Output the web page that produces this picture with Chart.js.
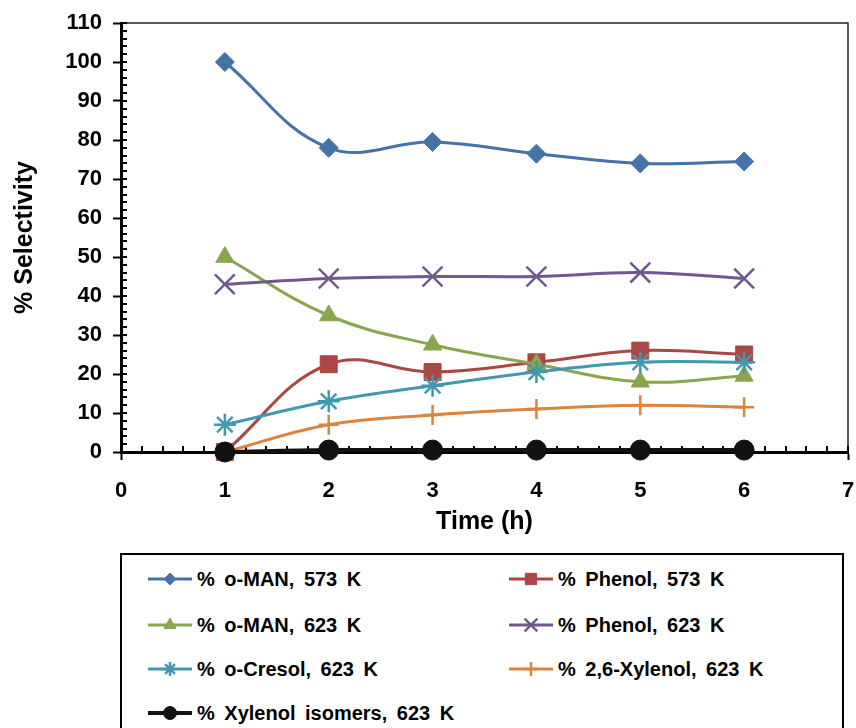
<!DOCTYPE html>
<html>
<head>
<meta charset="utf-8">
<script src="https://cdn.jsdelivr.net/npm/chart.js@4.4.0/dist/chart.umd.min.js"></script>
<style>
    body { margin: 0; background: #fff; width: 856px; height: 728px; overflow: hidden; position: relative; font-family: "Liberation Sans", Arial, sans-serif; }
    #wrap { position: absolute; left: 0; top: 0; width: 856px; height: 548px; }
    #legend { position: absolute; left: 120px; top: 553px; width: 724px; height: 220px; border: 2px solid #000; box-sizing: border-box; }
    .item { position: absolute; height: 24px; display: flex; align-items: center; font-weight: bold; font-size: 20px; word-spacing: 4px; white-space: nowrap; color: #000; }
    .item canvas { margin-right: 5px; }
</style>
</head>
<body>
<div id="wrap"><canvas id="selectivityChart"></canvas></div>
<div id="legend"></div>
<script>
// Time on stream (h)
const times = [1, 2, 3, 4, 5, 6];

// % selectivity per product
const oMan573 = [100, 78, 79.5, 76.5, 74, 74.5];
const phenol573 = [0, 22.5, 20.5, 23, 26, 25];
const oMan623 = [50, 35, 27.5, 22.5, 18, 19.5];
const phenol623 = [43, 44.5, 45, 45, 46, 44.5];
const cresol623 = [7, 13, 17, 20.5, 23, 23];
const xylenol26_623 = [0, 7, 9.5, 11, 12, 11.5];
const xylenolIsomers623 = [0, 0.5, 0.5, 0.5, 0.5, 0.5];

// axis ticks
const xTicks = [0, 1, 2, 3, 4, 5, 6, 7];
const yTicks = [0, 10, 20, 30, 40, 50, 60, 70, 80, 90, 100, 110];
const xMinorPerUnit = 5;   // minor tick every 0.2 h
const yMinorStep = 2;      // minor tick every 2 %

Chart.defaults.font.family = '"Liberation Sans", Arial, sans-serif';

const toPoints = (vals) => times.map((t, i) => ({ x: t, y: vals[i] }));

function series(label, vals, color, style, radius, legendRadius, opts) {
    return Object.assign({
        label: label,
        data: toPoints(vals),
        borderColor: color,
        backgroundColor: color,
        borderWidth: 3,
        tension: 0.4,
        pointStyle: style,
        pointRadius: radius,
        pointBackgroundColor: color,
        pointBorderColor: color,
        pointBorderWidth: 1,
        legendRadius: legendRadius,
        clip: false
    }, opts || {});
}

const datasets = [
    series('% o-MAN, 573 K', oMan573, '#4572A7', 'rectRot', 9.5, 6, { order: 7 }),
    series('% Phenol, 573 K', phenol573, '#AA4643', 'rect', 12, 8, { order: 6 }),
    series('% o-MAN, 623 K', oMan623, '#89A54E', 'triangle', 10.5, 7, { order: 5 }),
    series('% Phenol, 623 K', phenol623, '#71588F', 'crossRot', 14, 9, { order: 4, pointBorderWidth: 2.5 }),
    series('% o-Cresol, 623 K', cresol623, '#4198AF', 'star', 11, 7, { order: 3, pointBorderWidth: 2.5 }),
    series('% 2,6-Xylenol, 623 K', xylenol26_623, '#DB843D', 'cross', 10, 7, { order: 2, pointBorderWidth: 2.5 }),
    series('% Xylenol isomers, 623 K', xylenolIsomers623, '#111111', 'circle', 10, 6.5, { order: 1, borderWidth: 4 })
];

// Frame on top/right and the small inward minor ticks
const axisExtras = {
    id: 'axisExtras',
    beforeDatasetsDraw(chart) {
        const { ctx, chartArea: a, scales: { x, y } } = chart;
        ctx.save();
        ctx.strokeStyle = '#222';
        ctx.lineWidth = 1.5;
        ctx.beginPath();
        ctx.moveTo(a.left, a.top);
        ctx.lineTo(a.right, a.top);
        ctx.lineTo(a.right, a.bottom);
        ctx.stroke();

        ctx.strokeStyle = '#000';
        ctx.lineWidth = 2;
        ctx.beginPath();
        const yMax = yTicks[yTicks.length - 1];
        for (let v = 0; v <= yMax; v += yMinorStep) {
            const py = Math.round(y.getPixelForValue(v));
            ctx.moveTo(a.left, py);
            ctx.lineTo(a.left + 6, py);
        }
        const xMax = xTicks[xTicks.length - 1];
        for (let k = 0; k <= xMax * xMinorPerUnit; k++) {
            const px = Math.round(x.getPixelForValue(k / xMinorPerUnit));
            ctx.moveTo(px, a.bottom);
            ctx.lineTo(px, a.bottom - 6);
        }
        ctx.stroke();
        ctx.restore();
    }
};

const tickFont = { size: 22, weight: 'bold' };
const titleFont = { size: 25, weight: 'bold' };

const chart = new Chart(document.getElementById('selectivityChart'), {
    type: 'line',
    data: { datasets: datasets },
    options: {
        responsive: true,
        maintainAspectRatio: false,
        animation: false,
        layout: { autoPadding: false, padding: { top: 23, right: 8, left: 0, bottom: 0 } },
        plugins: {
            legend: { display: false },
            tooltip: { enabled: false }
        },
        scales: {
            x: {
                type: 'linear',
                min: 0,
                max: 7,
                afterBuildTicks: (s) => { s.ticks = xTicks.map(v => ({ value: v })); },
                afterFit: (s) => { s.height = 96; s.paddingLeft = 0; s.paddingRight = 0; },
                ticks: { color: '#000', font: tickFont, padding: 18 },
                grid: { drawOnChartArea: false, drawTicks: true, tickLength: 8, tickColor: '#000', tickWidth: 2 },
                border: { color: '#000', width: 3 },
                title: { display: true, text: 'Time (h)', color: '#000', font: titleFont, padding: { top: 0, bottom: 11 } }
            },
            y: {
                min: 0,
                max: 110,
                afterBuildTicks: (s) => { s.ticks = yTicks.map(v => ({ value: v })); },
                afterFit: (s) => { s.width = 121; s.paddingTop = 0; s.paddingBottom = 0; },
                ticks: { color: '#000', font: tickFont, padding: 11 },
                grid: { drawOnChartArea: false, drawTicks: true, tickLength: 8, tickColor: '#000', tickWidth: 2 },
                border: { color: '#000', width: 3 },
                title: { display: true, text: '% Selectivity', color: '#000', font: titleFont, padding: { top: 10, bottom: 0 } }
            }
        }
    },
    plugins: [axisExtras]
});

// HTML legend in two columns, built from the chart's datasets
function buildLegend(chart) {
    const box = document.getElementById('legend');
    const colLeft = [26, 387];
    const rowTop = [12, 58, 102, 146];
    const drawPoint = Chart.helpers && Chart.helpers.drawPoint;

    chart.data.datasets.forEach((ds, i) => {
        const item = document.createElement('div');
        item.className = 'item';
        item.style.left = colLeft[i % 2] + 'px';
        item.style.top = rowTop[Math.floor(i / 2)] + 'px';

        const c = document.createElement('canvas');
        c.width = 44;
        c.height = 24;
        const ctx = c.getContext('2d');
        ctx.strokeStyle = ds.borderColor;
        ctx.lineWidth = ds.borderWidth;
        ctx.beginPath();
        ctx.moveTo(0, 12);
        ctx.lineTo(44, 12);
        ctx.stroke();
        if (drawPoint) {
            ctx.fillStyle = ds.pointBackgroundColor;
            ctx.strokeStyle = ds.pointBorderColor;
            ctx.lineWidth = ds.pointBorderWidth;
            drawPoint(ctx, { pointStyle: ds.pointStyle, radius: ds.legendRadius, rotation: 0, borderWidth: ds.pointBorderWidth }, 22, 12);
        }

        const text = document.createElement('span');
        text.textContent = ds.label;
        item.appendChild(c);
        item.appendChild(text);
        box.appendChild(item);
    });
}

buildLegend(chart);
</script>
</body>
</html>
